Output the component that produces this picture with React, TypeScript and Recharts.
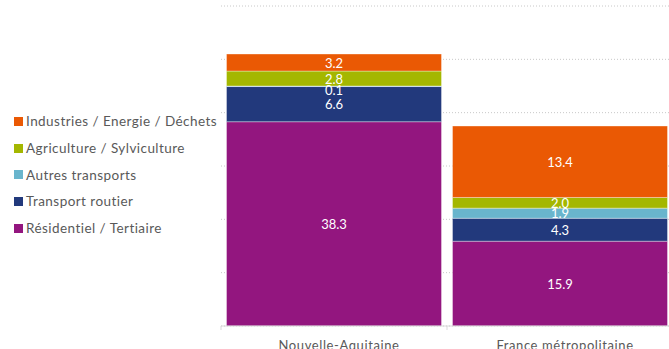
import { BarChart, Bar, XAxis, YAxis, CartesianGrid, LabelList } from 'recharts';

const categories = ['Nouvelle-Aquitaine', 'France métropolitaine'];

// stacked from bottom to top
const seriesNames = [
  'Résidentiel / Tertiaire',
  'Transport routier',
  'Autres transports',
  'Agriculture / Sylviculture',
  'Industries / Energie / Déchets',
];
const residentiel = [38.3, 15.9];
const transportRoutier = [6.6, 4.3];
const autresTransports = [0.1, 1.9];
const agriculture = [2.8, 2.0];
const industries = [3.2, 13.4];
const colors = ['#93167f', '#22397c', '#69b5cd', '#a4b700', '#ea5904'];
const yTicks = [0, 10, 20, 30, 40, 50, 60];

const seriesValues = [residentiel, transportRoutier, autresTransports, agriculture, industries];
const keys = ['s0', 's1', 's2', 's3', 's4'];

const data = categories.map((name, i) => {
  const row: Record<string, string | number> = { name };
  seriesValues.forEach((vals, k) => {
    row[keys[k]] = vals[i];
  });
  return row;
});

const FONT = 'Lato, "Open Sans", sans-serif';
const CHART_W = 680;
const CHART_H = 349;
const MARGIN = { top: 6, right: 7, bottom: 0, left: 221 };
const BAND = (CHART_W - MARGIN.left - MARGIN.right) / categories.length;

function SegmentLabel(props: any) {
  const { x, y, width, height, value } = props;
  // tiny segments: push label a bit down so it doesn't sit on the neighbour's label
  const nudge = Math.abs(height) < 3 ? 3.5 : 0;
  return (
    <text
      x={x + width / 2}
      y={y + height / 2 + nudge}
      fill="#ffffff"
      fontSize={13}
      fontFamily={FONT}
      textAnchor="middle"
      dominantBaseline="central"
    >
      {Number(value).toFixed(1)}
    </text>
  );
}

function AxisTick(props: any) {
  const { x, y, payload } = props;
  return (
    <g>
      <line x1={x - BAND / 2} x2={x - BAND / 2} y1={y - 4} y2={y} stroke="#d9d9d9" />
      <text
        x={x + 5}
        y={y + 20}
        fill="#595959"
        fontSize={13}
        fontFamily={FONT}
        letterSpacing={0.6}
        textAnchor="middle"
      >
        {payload.value}
      </text>
    </g>
  );
}

export default function App() {
  const legendItems = seriesNames.map((n, i) => ({ name: n, color: colors[i] })).reverse();
  return (
    <div
      style={{
        position: 'fixed',
        left: 0,
        top: 0,
        width: 669,
        height: 349,
        overflow: 'hidden',
        background: '#ffffff',
      }}
    >
      <BarChart width={CHART_W} height={CHART_H} data={data} margin={MARGIN} barCategoryGap={5.5}>
        <CartesianGrid horizontal vertical={false} stroke="#c8c8c8" strokeDasharray="1 2" />
        <YAxis hide domain={[0, 60]} ticks={yTicks} />
        <XAxis
          dataKey="name"
          height={23}
          axisLine={{ stroke: '#d9d9d9' }}
          tickLine={false}
          tickSize={4}
          tickMargin={0}
          tick={<AxisTick />}
          interval={0}
        />
        {keys.map((k, i) => (
          <Bar
            key={k}
            dataKey={k}
            stackId="a"
            fill={colors[i]}
            stroke="rgba(255,255,255,0.45)"
            strokeWidth={0.8}
            isAnimationActive={false}
          >
            <LabelList dataKey={k} content={<SegmentLabel />} />
          </Bar>
        ))}
      </BarChart>
      <div style={{ position: 'absolute', left: 14, top: 108, fontFamily: FONT }}>
        {legendItems.map((it) => (
          <div key={it.name} style={{ display: 'flex', alignItems: 'center', height: 26.7 }}>
            <span style={{ width: 9, height: 9, background: it.color, marginRight: 3 }} />
            <span style={{ fontSize: 13.5, color: '#595959', letterSpacing: 0.45, whiteSpace: 'nowrap' }}>
              {it.name}
            </span>
          </div>
        ))}
      </div>
    </div>
  );
}
